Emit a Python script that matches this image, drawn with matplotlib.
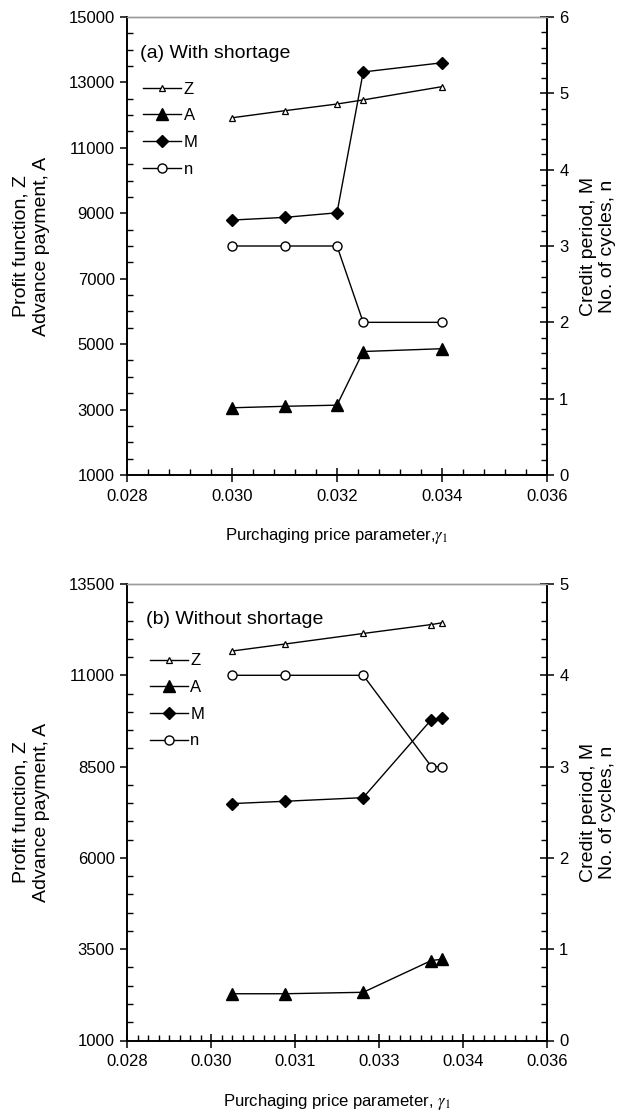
import matplotlib
matplotlib.use("Agg")
import matplotlib.pyplot as plt
from matplotlib.ticker import MultipleLocator, FormatStrFormatter

plt.rcParams['font.family'] = ['Liberation Sans', 'DejaVu Sans']
plt.rcParams['mathtext.fontset'] = 'stix'

# -------------------------------------------------------------
# Data: (a) with shortage
# -------------------------------------------------------------
gamma_a = [0.030, 0.031, 0.032, 0.0325, 0.034]
Z_a = [11920, 12135, 12340, 12465, 12870]
A_a = [3055, 3100, 3135, 4775, 4860]
M_a = [3.34, 3.375, 3.435, 5.28, 5.40]
n_a = [3, 3, 3, 2, 2]

# -------------------------------------------------------------
# Data: (b) without shortage
# -------------------------------------------------------------
gamma_b = [0.0300, 0.0310, 0.0325, 0.0338, 0.0340]
Z_b = [11665, 11855, 12145, 12390, 12437]
A_b = [2280, 2280, 2320, 3190, 3225]
M_b = [2.595, 2.62, 2.66, 3.515, 3.527]
n_b = [4, 4, 4, 3, 3]

W, H = 619, 1114
fig = plt.figure(figsize=(W / 100, H / 100), dpi=100)


def px_rect(x0, y0, x1, y1):
    return [x0 / W, 1 - y1 / H, (x1 - x0) / W, (y1 - y0) / H]


def style_axes(ax, ax2):
    for a in (ax, ax2):
        for s in ('left', 'right', 'bottom'):
            a.spines[s].set_linewidth(1.2)
        a.spines['top'].set_color('#9a9a9a')
        a.spines['top'].set_linewidth(1.0)
    ax.tick_params(axis='y', which='major', direction='out', length=5, width=1.1,
                   labelsize=12, pad=4)
    ax.tick_params(axis='y', which='minor', direction='in', length=4, width=1.0)
    ax.tick_params(axis='x', which='major', direction='inout', length=10, width=1.1,
                   labelsize=12, pad=5)
    ax.tick_params(axis='x', which='minor', direction='in', length=4, width=1.0)
    ax2.tick_params(axis='y', which='major', direction='inout', length=10, width=1.1,
                    labelsize=12, pad=4)
    ax2.tick_params(axis='y', which='minor', direction='in', length=4, width=1.0)


def draw_panel(rect, gam, Z, A, M, n, ylim, ystep, ylim2, xstep, xminor, xoff,
               title, title_pos, leg_pos, xlabel):
    ax = fig.add_axes(rect)
    ax2 = ax.twinx()
    lz, = ax.plot(gam, Z, color='k', lw=1.0, marker='^', ms=5,
                  mfc='white', mec='k', mew=0.9)
    la, = ax.plot(gam, A, color='k', lw=1.0, marker='^', ms=8.5,
                  mfc='k', mec='k')
    lm, = ax2.plot(gam, M, color='k', lw=1.0, marker='D', ms=6.5,
                   mfc='k', mec='k')
    ln, = ax2.plot(gam, n, color='k', lw=1.0, marker='o', ms=6.5,
                   mfc='white', mec='k', mew=1.0)

    ax.set_xlim(0.028, 0.036)
    ax.set_ylim(*ylim)
    ax2.set_ylim(*ylim2)
    ax.xaxis.set_major_locator(MultipleLocator(xstep, offset=xoff))
    ax.xaxis.set_minor_locator(MultipleLocator(xminor))
    ax.xaxis.set_major_formatter(FormatStrFormatter('%.3f'))
    ax.yaxis.set_major_locator(MultipleLocator(ystep, offset=1000))
    ax.yaxis.set_minor_locator(MultipleLocator(500))
    ax2.yaxis.set_major_locator(MultipleLocator(1))
    ax2.yaxis.set_minor_locator(MultipleLocator(0.2))
    style_axes(ax, ax2)

    ax.text(title_pos[0], title_pos[1], title, transform=ax.transAxes,
            fontsize=14, ha='left', va='center')
    ax.legend([lz, la, lm, ln], ['Z', 'A', 'M', 'n'], loc='upper left',
              bbox_to_anchor=leg_pos, frameon=False, fontsize=12,
              handlelength=2.3, handletextpad=0.15, labelspacing=0.7,
              borderpad=0, borderaxespad=0)
    ax.set_xlabel(xlabel, fontsize=12, labelpad=16)
    return ax


ax1 = draw_panel(px_rect(127.3, 17, 546.7, 475), gamma_a, Z_a, A_a, M_a, n_a,
                 (1000, 15000), 2000, (0, 6), 0.002, 0.0004, 0.0,
                 '(a) With shortage', (0.030, 0.920), (0.037, 0.859),
                 r'Purchaging price parameter,$\gamma_1$')
ax2 = draw_panel(px_rect(127.3, 584, 546.7, 1040.5), gamma_b, Z_b, A_b, M_b, n_b,
                 (1000, 13500), 2500, (0, 5), 0.0016, 0.0002, 0.0008,
                 '(b) Without shortage', (0.044, 0.922), (0.053, 0.848),
                 r'Purchaging price parameter, $\gamma_1$')

# y axis titles
for yc in ((17 + 475) / 2, (584 + 1040.5) / 2):
    fig.text(31 / W, 1 - yc / H, 'Profit function, Z\nAdvance payment, A',
             rotation=90, ha='center', va='center', fontsize=14,
             linespacing=1.25)
    fig.text(598 / W, 1 - yc / H, 'Credit period, M\nNo. of cycles, n',
             rotation=90, ha='center', va='center', fontsize=14,
             linespacing=1.2)

fig.savefig('out.png', dpi=100)
